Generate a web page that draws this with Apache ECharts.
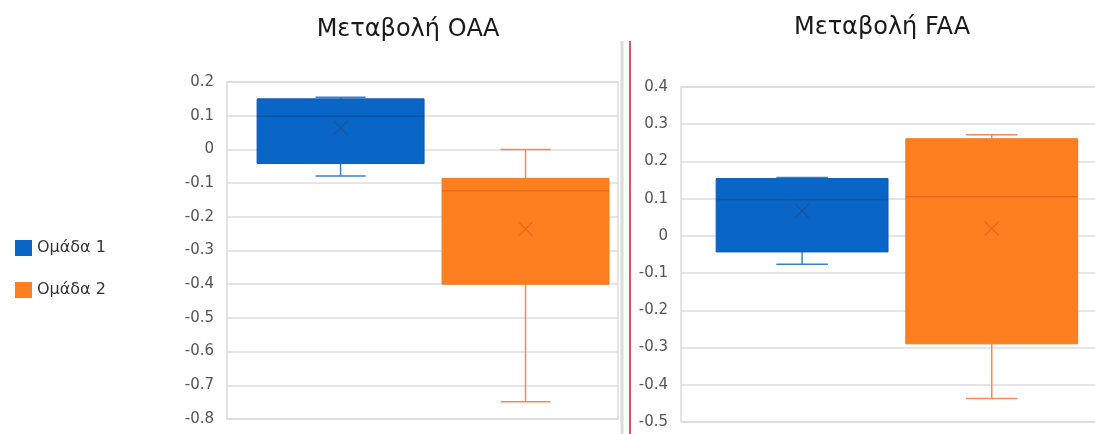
<!DOCTYPE html>
<html>
<head>
<meta charset="utf-8">
<script src="https://cdn.jsdelivr.net/npm/echarts@6/dist/echarts.min.js"></script>
<style>
  html, body { margin: 0; padding: 0; background: #ffffff; }
  #chart { width: 1095px; height: 434px; }
</style>
</head>
<body>
<div id="chart"></div>
<script>
// Groups and panel titles
const groups = ['Ομάδα 1', 'Ομάδα 2'];
const panelTitles = ['Μεταβολή ΟΑΑ', 'Μεταβολή FAA'];

// Five-number summaries per group: [min, q1, median, q3, max]
const oaaGroup1 = [-0.079, -0.042, 0.098, 0.150, 0.155];
const oaaGroup2 = [-0.749, -0.400, -0.123, -0.086, 0.000];
const faaGroup1 = [-0.076, -0.043, 0.098, 0.154, 0.157];
const faaGroup2 = [-0.437, -0.290, 0.105, 0.261, 0.272];

// Group means (drawn as ×)
const oaaMeans = [0.064, -0.236];
const faaMeans = [0.067, 0.020];

// Value-axis ranges
const oaaAxis = { min: -0.8, max: 0.2, interval: 0.1 };
const faaAxis = { min: -0.5, max: 0.4, interval: 0.1 };

// Styling
const fills = ['#0a66c6', '#fd7f20'];
const edges = ['#0a5cb4', '#f07a22'];
const medianColors = ['#0b55a8', '#e36c1a'];
const whiskerColors = ['#3b7fd2', '#f08d55'];
const meanColors = ['#1f5597', '#e2691f'];
const gridColor = '#dcdcdc';
const fontFamily = '"DejaVu Sans", sans-serif';

// Box placement inside each panel's band (fractions of band width)
const panelLayout = [
  { margin: 0.077, width: 0.427, gap: 0.046 },
  { margin: 0.081, width: 0.396, gap: 0.041 }
];

function boxSeries(panel, gi, stats, mean) {
  const layout = panelLayout[panel];
  return {
    type: 'custom',
    name: groups[gi],
    xAxisIndex: panel,
    yAxisIndex: panel,
    itemStyle: { color: fills[gi] },
    data: [[0].concat(stats, [mean])],
    encode: { x: 0, y: [1, 2, 3, 4, 5, 6] },
    renderItem: function (params, api) {
      const center = api.coord([0, 0])[0];
      const band = api.size([1, 0])[0];
      const start = center - band / 2;
      const w = band * layout.width;
      const x0 = start + band * (layout.margin + gi * (layout.width + layout.gap));
      const cx = x0 + w / 2;
      const y = function (i) { return api.coord([0, api.value(i)])[1]; };
      const yMin = y(1), yQ1 = y(2), yMed = y(3), yQ3 = y(4), yMax = y(5), yMean = y(6);
      const cap = w * 0.3;
      const wStyle = { stroke: whiskerColors[gi], lineWidth: 1.5 };
      const m = 7;
      return {
        type: 'group',
        children: [
          { type: 'line', shape: { x1: cx, y1: yQ3, x2: cx, y2: yMax }, style: wStyle },
          { type: 'line', shape: { x1: cx - cap / 2, y1: yMax, x2: cx + cap / 2, y2: yMax }, style: wStyle },
          { type: 'line', shape: { x1: cx, y1: yQ1, x2: cx, y2: yMin }, style: wStyle },
          { type: 'line', shape: { x1: cx - cap / 2, y1: yMin, x2: cx + cap / 2, y2: yMin }, style: wStyle },
          { type: 'rect', shape: { x: x0, y: yQ3, width: w, height: yQ1 - yQ3 },
            style: { fill: fills[gi], stroke: edges[gi], lineWidth: 1 } },
          { type: 'line', shape: { x1: x0, y1: yMed, x2: x0 + w, y2: yMed },
            style: { stroke: medianColors[gi], lineWidth: 1.5 } },
          { type: 'line', shape: { x1: cx - m, y1: yMean - m, x2: cx + m, y2: yMean + m },
            style: { stroke: meanColors[gi], lineWidth: 1.3, opacity: 0.85 } },
          { type: 'line', shape: { x1: cx - m, y1: yMean + m, x2: cx + m, y2: yMean - m },
            style: { stroke: meanColors[gi], lineWidth: 1.3, opacity: 0.85 } }
        ]
      };
    }
  };
}

function valueAxis(panel, range) {
  return {
    type: 'value',
    gridIndex: panel,
    min: range.min,
    max: range.max,
    interval: range.interval,
    axisLine: { show: false },
    axisTick: { show: false },
    axisLabel: { color: '#555555', fontSize: 15, fontFamily: fontFamily, margin: 13 },
    splitLine: { show: true, lineStyle: { color: gridColor, width: 1.5 } }
  };
}

function categoryAxis(panel) {
  return {
    type: 'category',
    gridIndex: panel,
    data: [''],
    axisLine: { show: false },
    axisTick: { show: false },
    axisLabel: { show: false },
    splitLine: { show: false }
  };
}

const chart = echarts.init(document.getElementById('chart'), null, { renderer: 'canvas' });

const titleStyle = { fontFamily: fontFamily, fontSize: 24, fontWeight: 'normal', color: '#1a1a1a' };

chart.setOption({
  animation: false,
  backgroundColor: '#ffffff',
  title: [
    { text: panelTitles[0], left: 403, top: 13, textAlign: 'center', textStyle: titleStyle },
    { text: panelTitles[1], left: 877, top: 11, textAlign: 'center', textStyle: titleStyle }
  ],
  legend: {
    orient: 'vertical',
    left: 10,
    top: 235,
    itemWidth: 17,
    itemHeight: 16,
    itemGap: 26,
    icon: 'rect',
    data: groups,
    textStyle: { fontFamily: fontFamily, fontSize: 16, color: '#333333' }
  },
  grid: [
    { left: 227, width: 391, top: 82, bottom: 15, show: true, outerBoundsMode: 'none',
      borderColor: gridColor, borderWidth: 1.5, backgroundColor: 'transparent' },
    { left: 681, width: 434, top: 87, bottom: 12, show: true, outerBoundsMode: 'none',
      borderColor: gridColor, borderWidth: 1.5, backgroundColor: 'transparent' }
  ],
  xAxis: [categoryAxis(0), categoryAxis(1)],
  yAxis: [valueAxis(0, oaaAxis), valueAxis(1, faaAxis)],
  series: [
    boxSeries(0, 0, oaaGroup1, oaaMeans[0]),
    boxSeries(0, 1, oaaGroup2, oaaMeans[1]),
    boxSeries(1, 0, faaGroup1, faaMeans[0]),
    boxSeries(1, 1, faaGroup2, faaMeans[1])
  ],
  graphic: [
    { type: 'line', shape: { x1: 622, y1: 41, x2: 622, y2: 434 },
      style: { stroke: '#dcdcdc', lineWidth: 3 }, silent: true },
    { type: 'line', shape: { x1: 630, y1: 41, x2: 630, y2: 434 },
      style: { stroke: '#d25a66', lineWidth: 2 }, silent: true }
  ]
});
</script>
</body>
</html>
